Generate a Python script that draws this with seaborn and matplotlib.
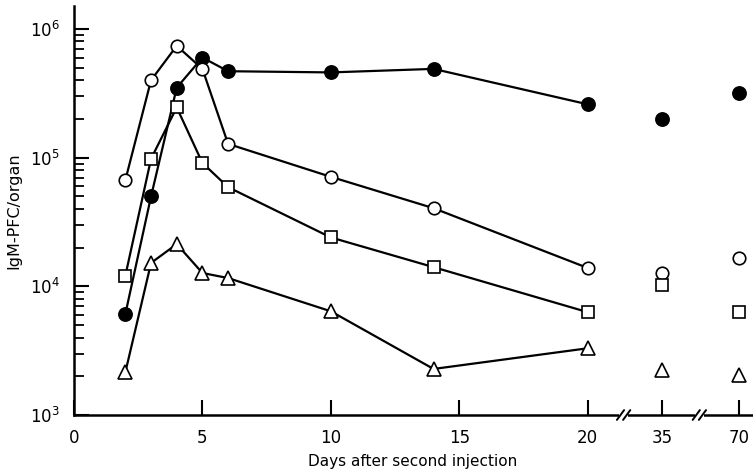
import numpy as np
import pandas as pd
import matplotlib
matplotlib.use("Agg")
import matplotlib.pyplot as plt
import seaborn as sns
from matplotlib.ticker import LogLocator, LogFormatterMathtext, NullFormatter

# ---- data ----
days = [2, 3, 4, 5, 6, 10, 14, 20]
late_days = [35, 70]
filled_circle = [6.1e3, 5.0e4, 3.5e5, 6.0e5, 4.7e5, 4.6e5, 4.9e5, 2.6e5]
filled_circle_late = [2.0e5, 3.2e5]
open_circle = [6.7e4, 4.0e5, 7.4e5, 4.9e5, 1.28e5, 7.1e4, 4.05e4, 1.39e4]
open_circle_late = [1.28e4, 1.67e4]
open_square = [1.21e4, 9.8e4, 2.46e5, 9.1e4, 5.9e4, 2.4e4, 1.41e4, 6.3e3]
open_square_late = [1.02e4, 6.3e3]
open_triangle = [2.15e3, 1.52e4, 2.13e4, 1.27e4, 1.16e4, 6.4e3, 2.28e3, 3.3e3]
open_triangle_late = [2.24e3, 2.05e3]

x_tick_days = [0, 5, 10, 15, 20, 35, 70]
x_tick_labels = ["0", "5", "10", "15", "20", "35", "70"]

# broken x axis: days beyond 20 are placed after axis breaks
late_pos = {35: 22.9, 70: 25.9}
break_pos = [21.4, 24.35]


def xpos(d):
    return d if d <= 20 else late_pos[d]


sns.set_theme(style="white")
plt.rcParams["font.family"] = ["DejaVu Sans"]

fig = plt.figure(figsize=(7.53, 4.69), dpi=100)
ax = fig.add_axes([74 / 753, 1 - 415 / 469, (752 - 74) / 753, (415 - 6) / 469])

series = [
    (filled_circle, filled_circle_late, "o", "black", 9.5),
    (open_circle, open_circle_late, "o", "white", 9),
    (open_square, open_square_late, "s", "white", 8.5),
    (open_triangle, open_triangle_late, "^", "white", 9.5),
]

for vals, late_vals, mk, fc, ms in series:
    df = pd.DataFrame({"x": [xpos(d) for d in days], "y": vals})
    sns.lineplot(data=df, x="x", y="y", ax=ax, color="black", lw=1.6,
                 marker=mk, markersize=ms, markerfacecolor=fc,
                 markeredgecolor="black", markeredgewidth=1.2, zorder=3)
    dfl = pd.DataFrame({"x": [xpos(d) for d in late_days], "y": late_vals})
    sns.lineplot(data=dfl, x="x", y="y", ax=ax, color="black", lw=0,
                 marker=mk, markersize=ms, markerfacecolor=fc,
                 markeredgecolor="black", markeredgewidth=1.2, zorder=3)

ax.set_yscale("log")
ax.set_xlim(0, 26.4)
ax.set_ylim(1e3, 1.51e6)

ax.set_xticks([xpos(d) for d in x_tick_days])
ax.set_xticklabels(x_tick_labels)
ax.yaxis.set_major_locator(LogLocator(base=10, numticks=10))
ax.yaxis.set_major_formatter(LogFormatterMathtext())
ax.yaxis.set_minor_locator(LogLocator(base=10, subs=np.arange(2, 10), numticks=20))
ax.yaxis.set_minor_formatter(NullFormatter())

for s in ["top", "right"]:
    ax.spines[s].set_visible(False)
for s in ["left", "bottom"]:
    ax.spines[s].set_color("black")
    ax.spines[s].set_linewidth(1.8)

ax.tick_params(axis="both", which="major", direction="in", length=11, width=1.5,
               color="black", labelsize=12, labelcolor="black",
               left=True, bottom=True)
ax.tick_params(axis="y", which="minor", direction="in", length=7, width=1.3,
               color="black", left=True)
ax.tick_params(axis="x", which="major", pad=10)
ax.tick_params(axis="y", which="major", pad=10)

# axis break marks
trans = ax.get_xaxis_transform()
for bp in break_pos:
    ax.plot([bp - 0.18, bp + 0.18], [0, 0], color="white", lw=4, transform=trans,
            clip_on=False, zorder=5, solid_capstyle="butt")
    for off in (-0.12, 0.12):
        ax.plot([bp + off - 0.14, bp + off + 0.14], [-0.012, 0.012], color="black",
                lw=1.4, transform=trans, clip_on=False, zorder=6)

ax.set_xlabel("Days after second injection", fontsize=11, color="black", labelpad=5)
ax.set_ylabel("IgM-PFC/organ", fontsize=11.5, color="black")
ax.yaxis.set_label_coords(-0.078, 0.5)

fig.savefig("out.png", dpi=100)
